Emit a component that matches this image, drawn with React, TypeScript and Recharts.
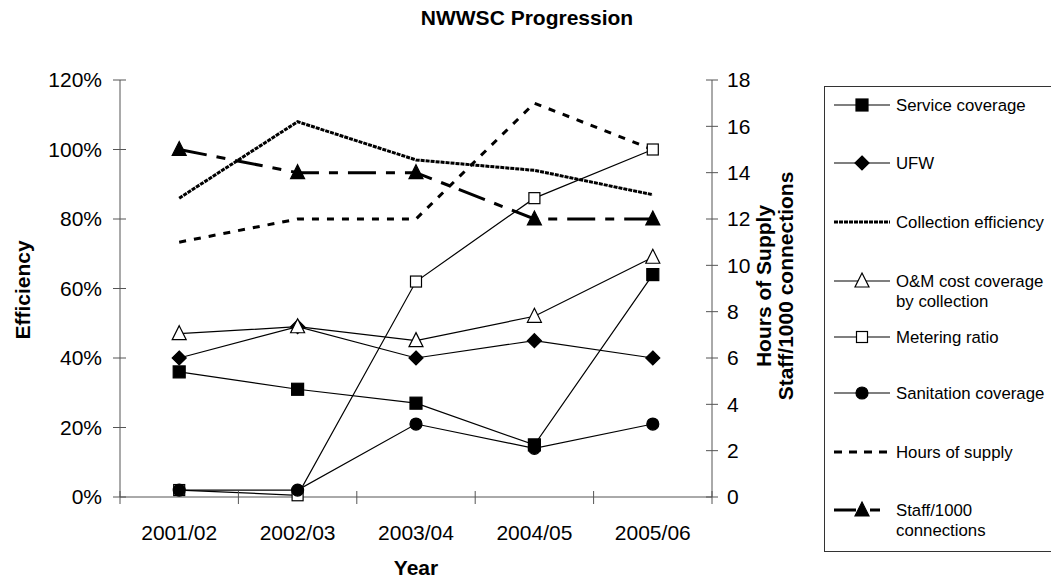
import React from 'react';
import { LineChart, Line, XAxis, YAxis } from 'recharts';

const years = ['2001/02', '2002/03', '2003/04', '2004/05', '2005/06'];
const serviceCoverage = [36, 31, 27, 15, 64];
const ufw = [40, 49, 40, 45, 40];
const collectionEfficiency = [86, 108, 97, 94, 87];
const omCostCoverage = [47, 49, 45, 52, 69];
const meteringRatio = [2, 0.5, 62, 86, 100];
const sanitationCoverage = [2, 2, 21, 14, 21];
const hoursOfSupply = [11, 12, 12, 17, 15];
const staffPer1000 = [15, 14, 14, 12, 12];
const leftTicks = [0, 20, 40, 60, 80, 100, 120];
const rightTicks = [0, 2, 4, 6, 8, 10, 12, 14, 16, 18];

const data = years.map((year, i) => ({
  year,
  service: serviceCoverage[i],
  ufw: ufw[i],
  collection: collectionEfficiency[i],
  om: omCostCoverage[i],
  metering: meteringRatio[i],
  sanitation: sanitationCoverage[i],
  hours: hoursOfSupply[i],
  staff: staffPer1000[i],
}));

const W = 1051;
const H = 581;
const MARGIN = { top: 80, right: 279, bottom: 24, left: 40 };
const LEFT_W = 80;
const RIGHT_W = 60;
const X_H = 60;
const PLOT_W = W - MARGIN.left - MARGIN.right - LEFT_W - RIGHT_W;
const BAND = PLOT_W / years.length;
const FONT = '"Liberation Sans", Arial, sans-serif';
const AXIS = '#555';
const LW = 1.2;

type Shape = 'square' | 'diamond' | 'triangle' | 'circle';

function marker(shape: Shape, filled: boolean, cx: number, cy: number, key?: any) {
  const fill = filled ? '#000' : '#fff';
  const common = { fill, stroke: '#000', strokeWidth: 1.2 };
  if (shape === 'square') {
    const s = filled ? 6 : 5.5;
    return <rect key={key} x={cx - s} y={cy - s} width={2 * s} height={2 * s} {...common} />;
  }
  if (shape === 'diamond') {
    return (
      <polygon
        key={key}
        points={`${cx},${cy - 7} ${cx + 7},${cy} ${cx},${cy + 7} ${cx - 7},${cy}`}
        {...common}
      />
    );
  }
  if (shape === 'triangle') {
    return (
      <polygon
        key={key}
        points={`${cx},${cy - 8} ${cx + 7},${cy + 6} ${cx - 7},${cy + 6}`}
        {...common}
      />
    );
  }
  return <circle key={key} cx={cx} cy={cy} r={6} {...common} />;
}

const mkDot = (shape: Shape, filled: boolean) => (props: any) => {
  const { cx, cy, index } = props;
  if (cx == null || cy == null) return <g key={`d-${index}`} />;
  return marker(shape, filled, cx, cy, `d-${index}`);
};

const LeftTick = (props: any) => {
  const { x, y, payload } = props;
  const ax = x + 11 + 7;
  return (
    <g>
      <line x1={ax - 7} x2={ax + 6} y1={y} y2={y} stroke={AXIS} strokeWidth={1} />
      <text x={x} y={y} dy="0.355em" textAnchor="end" fontSize={21} fontFamily={FONT} fill="#000">
        {`${payload.value}%`}
      </text>
    </g>
  );
};

const RightTick = (props: any) => {
  const { x, y, payload } = props;
  const ax = x - 9 - 6;
  return (
    <g>
      <line x1={ax - 6} x2={ax + 6} y1={y} y2={y} stroke={AXIS} strokeWidth={1} />
      <text x={x} y={y} dy="0.355em" textAnchor="start" fontSize={21} fontFamily={FONT} fill="#000">
        {payload.value}
      </text>
    </g>
  );
};

const XTick = (props: any) => {
  const { x, y, payload, index } = props;
  const ay = y - 28;
  const b0 = x - BAND / 2;
  const b1 = x + BAND / 2;
  return (
    <g>
      <line x1={b0} x2={b0} y1={ay - 6} y2={ay + 7} stroke={AXIS} strokeWidth={1} />
      {index === years.length - 1 && (
        <line x1={b1} x2={b1} y1={ay - 6} y2={ay + 7} stroke={AXIS} strokeWidth={1} />
      )}
      <text x={x} y={y} dy="0.71em" textAnchor="middle" fontSize={21} fontFamily={FONT} fill="#000">
        {payload.value}
      </text>
    </g>
  );
};

const DASH_COLLECTION = '4 1';
const DASH_HOURS = '7 8';
const DASH_STAFF = '28 10 9 10';

type LegendItem = {
  lines: string[];
  shape?: Shape;
  filled?: boolean;
  dash?: string;
  width?: number;
  y: number;
};

const legendItems: LegendItem[] = [
  { lines: ['Service coverage'], shape: 'square', filled: true, y: 105 },
  { lines: ['UFW'], shape: 'diamond', filled: true, y: 163 },
  { lines: ['Collection efficiency'], dash: DASH_COLLECTION, width: 3, y: 222 },
  { lines: ['O&M cost coverage', 'by collection'], shape: 'triangle', filled: false, y: 281 },
  { lines: ['Metering ratio'], shape: 'square', filled: false, y: 337 },
  { lines: ['Sanitation coverage'], shape: 'circle', filled: true, y: 393 },
  { lines: ['Hours of supply'], dash: '8 7', width: 3, y: 452 },
  { lines: ['Staff/1000', 'connections'], shape: 'triangle', filled: true, dash: '22 14 10 30', width: 3, y: 510 },
];

const Overlay = () => (
  <svg
    width={W}
    height={H}
    style={{ position: 'absolute', left: 0, top: 0, pointerEvents: 'none' }}
  >
    <text x={527} y={25} textAnchor="middle" fontSize={21} fontWeight="bold" fontFamily={FONT}>
      NWWSC Progression
    </text>
    <text
      transform="translate(30,290) rotate(-90)"
      textAnchor="middle"
      fontSize={21}
      fontWeight="bold"
      fontFamily={FONT}
    >
      Efficiency
    </text>
    <text
      transform="translate(771,286) rotate(-90)"
      textAnchor="middle"
      fontSize={21}
      fontWeight="bold"
      fontFamily={FONT}
    >
      Hours of Supply
    </text>
    <text
      transform="translate(793,286) rotate(-90)"
      textAnchor="middle"
      fontSize={21}
      fontWeight="bold"
      fontFamily={FONT}
    >
      Staff/1000 connections
    </text>
    <text x={416} y={575} textAnchor="middle" fontSize={21} fontWeight="bold" fontFamily={FONT}>
      Year
    </text>
    <rect x={824.5} y={86.5} width={300} height={465} fill="none" stroke="#333" strokeWidth={1} />
    {legendItems.map((it, i) => (
      <g key={i}>
        <line
          x1={834}
          x2={890}
          y1={it.y}
          y2={it.y}
          stroke="#000"
          strokeWidth={it.width ?? LW}
          strokeDasharray={it.dash}
        />
        {it.shape && marker(it.shape, !!it.filled, 862, it.y)}
        {it.lines.map((ln, j) => (
          <text
            key={j}
            x={896}
            y={it.y + j * 20}
            dy="0.355em"
            fontSize={16.8}
            fontFamily={FONT}
            fill="#000"
          >
            {ln}
          </text>
        ))}
      </g>
    ))}
  </svg>
);

export default function App() {
  return (
    <div
      style={{
        position: 'absolute',
        left: 0,
        top: 0,
        width: W,
        height: H,
        overflow: 'hidden',
        background: '#fff',
      }}
    >
      <LineChart width={W} height={H} data={data} margin={MARGIN}>
        <XAxis
          dataKey="year"
          scale="band"
          height={X_H}
          interval={0}
          tickSize={7}
          tickMargin={21}
          tickLine={false}
          axisLine={{ stroke: AXIS }}
          tick={XTick}
        />
        <YAxis
          yAxisId="left"
          width={LEFT_W}
          domain={[0, 120]}
          ticks={leftTicks}
          interval={0}
          tickSize={7}
          tickMargin={11}
          tickLine={false}
          axisLine={{ stroke: AXIS }}
          tick={LeftTick}
        />
        <YAxis
          yAxisId="right"
          orientation="right"
          width={RIGHT_W}
          domain={[0, 18]}
          ticks={rightTicks}
          interval={0}
          tickSize={6}
          tickMargin={9}
          tickLine={false}
          axisLine={{ stroke: AXIS }}
          tick={RightTick}
        />
        <Line yAxisId="left" dataKey="service" stroke="#000" strokeWidth={LW} dot={mkDot('square', true)} isAnimationActive={false} />
        <Line yAxisId="left" dataKey="ufw" stroke="#000" strokeWidth={LW} dot={mkDot('diamond', true)} isAnimationActive={false} />
        <Line yAxisId="left" dataKey="collection" stroke="#000" strokeWidth={3} strokeDasharray={DASH_COLLECTION} dot={false} isAnimationActive={false} />
        <Line yAxisId="left" dataKey="om" stroke="#000" strokeWidth={LW} dot={mkDot('triangle', false)} isAnimationActive={false} />
        <Line yAxisId="left" dataKey="metering" stroke="#000" strokeWidth={LW} dot={mkDot('square', false)} isAnimationActive={false} />
        <Line yAxisId="left" dataKey="sanitation" stroke="#000" strokeWidth={LW} dot={mkDot('circle', true)} isAnimationActive={false} />
        <Line yAxisId="right" dataKey="hours" stroke="#000" strokeWidth={3} strokeDasharray={DASH_HOURS} dot={false} isAnimationActive={false} />
        <Line yAxisId="right" dataKey="staff" stroke="#000" strokeWidth={3} strokeDasharray={DASH_STAFF} dot={mkDot('triangle', true)} isAnimationActive={false} />
      </LineChart>
      <Overlay />
    </div>
  );
}
